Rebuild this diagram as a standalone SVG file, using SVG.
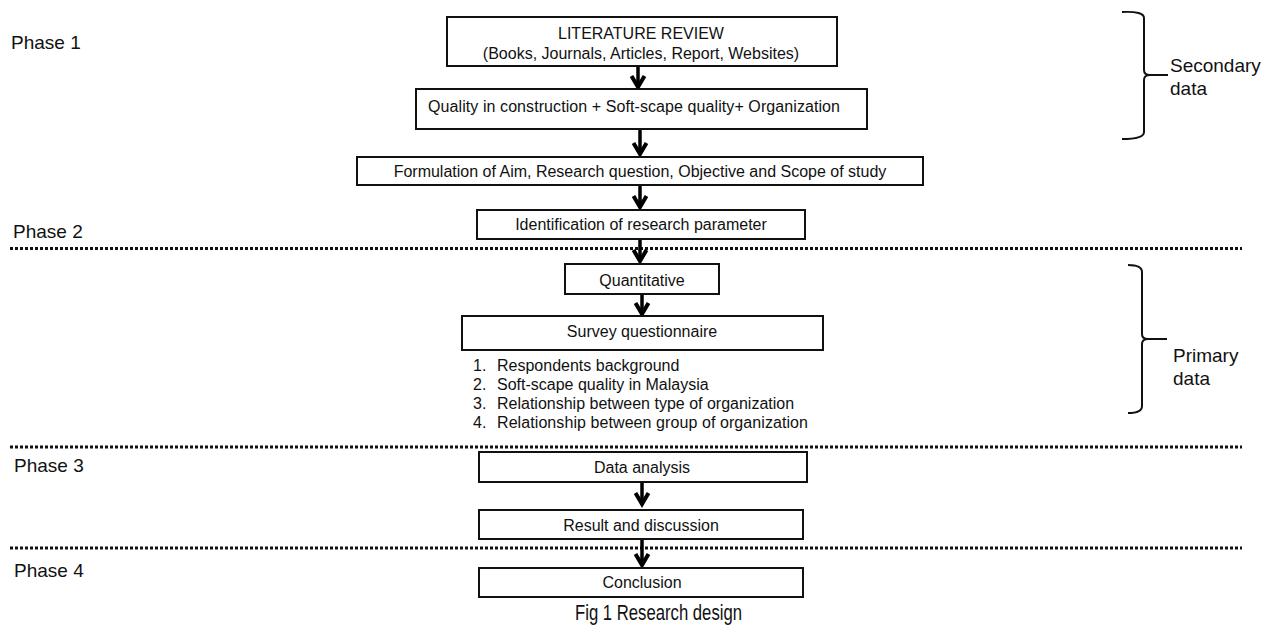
<svg xmlns="http://www.w3.org/2000/svg" width="1275" height="627" viewBox="0 0 1275 627">
<style>
text { font-family: "Liberation Sans", Arial, sans-serif; fill: #111; }
.t { font-size: 16px; }
.c { text-anchor: middle; }
.ph { font-size: 19px; }
.box { fill: #fff; stroke: #111; stroke-width: 2; }
.dot { stroke: #111; stroke-width: 3; stroke-dasharray: 3 2; fill: none; }
.br { fill: none; stroke: #111; stroke-width: 2; }
.stem { stroke: #000; stroke-width: 3.5; fill: none; }
.head { stroke: #000; stroke-width: 4; fill: none; stroke-linejoin: miter; }
</style>
<rect width="1275" height="627" fill="#fff"/>

<g id="dividers">
<line class="dot" x1="10" y1="248.5" x2="1242" y2="248.5"/>
<line class="dot" x1="10" y1="447" x2="1242" y2="447"/>
<line class="dot" x1="10" y1="548" x2="1242" y2="548"/>
</g>

<g id="phases">
<text class="ph" x="11" y="49">Phase 1</text>
<text class="ph" x="13" y="238">Phase 2</text>
<text class="ph" x="14" y="472">Phase 3</text>
<text class="ph" x="14" y="577">Phase 4</text>
</g>

<g id="connectors">
<g id="a1"><line class="stem" x1="638" y1="66" x2="638" y2="86"/><polyline class="head" points="631.5,76 638,87 644.5,76"/></g>
<g id="a2"><line class="stem" x1="640" y1="129" x2="640" y2="153"/><polyline class="head" points="633.5,143 640,154 646.5,143"/></g>
<g id="a3"><line class="stem" x1="640" y1="185" x2="640" y2="206"/><polyline class="head" points="633.5,196 640,207 646.5,196"/></g>
<g id="a4"><line class="stem" x1="640" y1="239" x2="640" y2="260"/><polyline class="head" points="633.5,250 640,261 646.5,250"/></g>
<g id="a5"><line class="stem" x1="642" y1="294" x2="642" y2="313"/><polyline class="head" points="635.5,303 642,314 648.5,303"/></g>
<g id="a6"><line class="stem" x1="642" y1="482" x2="642" y2="503"/><polyline class="head" points="635.5,493 642,504 648.5,493"/></g>
<g id="a7"><line class="stem" x1="642" y1="539" x2="642" y2="564"/><polyline class="head" points="635.5,554 642,565 648.5,554"/></g>
</g>

<g id="n-literature">
<rect class="box" x="447" y="17" width="390" height="49"/>
<text class="t c" x="641" y="39">LITERATURE REVIEW</text>
<text class="t c" x="641" y="59">(Books, Journals, Articles, Report, Websites)</text>
</g>

<g id="n-quality">
<rect class="box" x="416" y="89" width="451" height="40"/>
<text class="t" x="428" y="112" textLength="412">Quality in construction + Soft-scape quality+ Organization</text>
</g>

<g id="n-formulation">
<rect class="box" x="357" y="157" width="566" height="28"/>
<text class="t c" x="640" y="177">Formulation of Aim, Research question, Objective and Scope of study</text>
</g>

<g id="n-identification">
<rect class="box" x="477" y="210" width="328" height="29"/>
<text class="t c" x="641" y="230">Identification of research parameter</text>
</g>

<g id="n-quantitative">
<rect class="box" x="565" y="264" width="154" height="30"/>
<text class="t c" x="642" y="286">Quantitative</text>
</g>

<g id="n-survey">
<rect class="box" x="462" y="316" width="361" height="34"/>
<text class="t c" x="642" y="337">Survey questionnaire</text>
</g>

<g id="survey-list">
<text class="t" x="473" y="371">1.</text><text class="t" x="497" y="371">Respondents background</text>
<text class="t" x="473" y="390">2.</text><text class="t" x="497" y="390">Soft-scape quality in Malaysia</text>
<text class="t" x="473" y="409">3.</text><text class="t" x="497" y="409">Relationship between type of organization</text>
<text class="t" x="473" y="428">4.</text><text class="t" x="497" y="428" textLength="311">Relationship between group of organization</text>
</g>

<g id="n-data-analysis">
<rect class="box" x="479" y="452" width="328" height="30"/>
<text class="t c" x="642" y="473">Data analysis</text>
</g>

<g id="n-result">
<rect class="box" x="479" y="510" width="324" height="29"/>
<text class="t c" x="641" y="531">Result and discussion</text>
</g>

<g id="n-conclusion">
<rect class="box" x="479" y="568" width="324" height="29"/>
<text class="t c" x="642" y="588">Conclusion</text>
</g>

<g id="caption">
<text x="575" y="620" font-size="22" textLength="167" lengthAdjust="spacingAndGlyphs">Fig 1 Research design</text>
</g>

<g id="secondary">
<path class="br" d="M1122,12 Q1144,11 1144,18 L1144,70 Q1144,75 1150,75 L1168,75 M1150,75 Q1144,75 1144,80 L1144,132 Q1144,139 1122,139"/>
<text class="ph" x="1170" y="72">Secondary</text>
<text class="ph" x="1170" y="95">data</text>
</g>

<g id="primary">
<path class="br" d="M1128,265 Q1142,265 1142,272 L1142,334 Q1142,339 1148,339 L1167,339 M1148,339 Q1142,339 1142,344 L1142,406 Q1142,413 1128,413"/>
<text class="ph" x="1173" y="362">Primary</text>
<text class="ph" x="1173" y="385">data</text>
</g>
</svg>
